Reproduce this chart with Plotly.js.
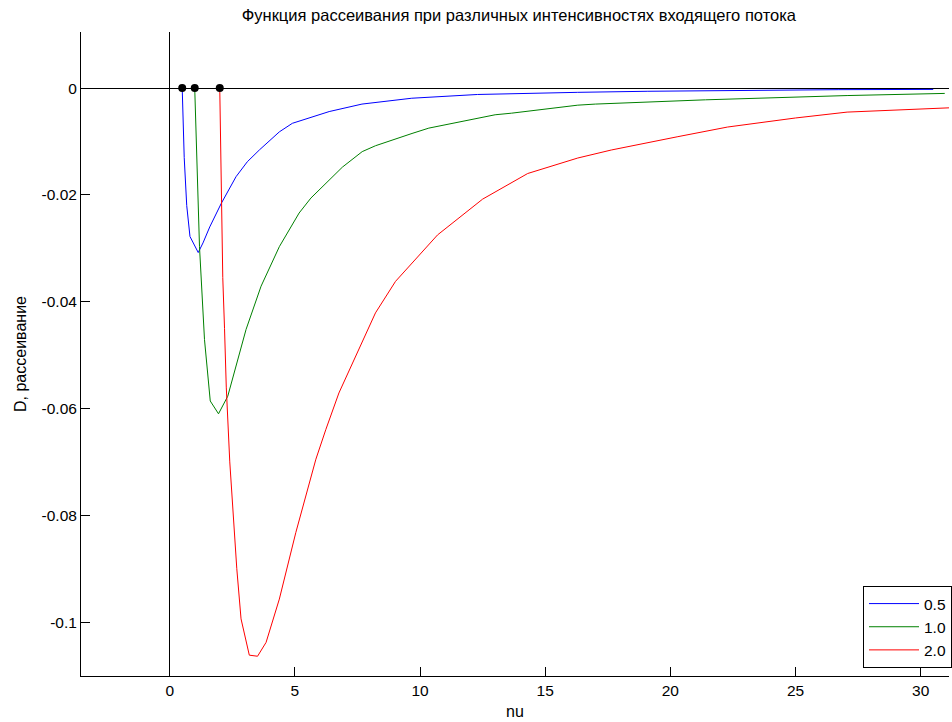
<!DOCTYPE html>
<html>
<head>
<meta charset="utf-8">
<script src="https://cdn.plot.ly/plotly-3.0.1.min.js"></script>
<style>html,body{margin:0;padding:0;background:#fff;}#chart{width:952px;height:722px;}</style>
</head>
<body>
<div id="chart"></div>
<script>
// Series labels (incoming flux intensity)
const seriesNames = ["0.5", "1.0", "2.0"];

// Series 0.5
const nu05 = [0.5, 0.58, 0.68, 0.81, 1.14, 1.33, 1.6, 2.06, 2.65, 3.1, 3.58, 4.38, 4.9, 5.97, 6.37, 7.68, 9.67, 12.3, 14.6, 16.3, 19.1, 22.5, 26.7, 30.5];
const D05  = [0, -0.013, -0.022, -0.0278, -0.0308, -0.029, -0.026, -0.0216, -0.0166, -0.0138, -0.0116, -0.0082, -0.0066, -0.0049, -0.0044, -0.0030, -0.0019, -0.0012, -0.0009, -0.0008, -0.0006, -0.00045, -0.0003, -0.00025];

// Series 1.0
const nu10 = [1.0, 1.1, 1.19, 1.39, 1.62, 1.95, 2.32, 3.05, 3.65, 4.38, 4.78, 5.17, 5.64, 6.24, 6.9, 7.69, 8.22, 9.68, 10.35, 13.0, 13.66, 16.3, 17.0, 21.4, 27.06, 30.96];
const D10  = [0, -0.015, -0.0297, -0.0471, -0.0586, -0.061, -0.0577, -0.0452, -0.0371, -0.0297, -0.0265, -0.0234, -0.0206, -0.0178, -0.0148, -0.0119, -0.0108, -0.0085, -0.0075, -0.0050, -0.0047, -0.0032, -0.0030, -0.0022, -0.0014, -0.0010];

// Series 2.0
const nu20 = [2.0, 2.06, 2.12, 2.19, 2.26, 2.4, 2.52, 2.68, 2.85, 3.18, 3.51, 3.85, 4.38, 5.04, 5.84, 6.24, 6.76, 7.56, 8.22, 9.02, 10.7, 12.5, 14.3, 16.3, 17.64, 20.3, 22.28, 25.0, 27.06, 31.13];
const D20  = [0, -0.0215, -0.0355, -0.045, -0.056, -0.07, -0.0783, -0.09, -0.0994, -0.1062, -0.1064, -0.1038, -0.0957, -0.0832, -0.0695, -0.0639, -0.0571, -0.0487, -0.0421, -0.0362, -0.0275, -0.0208, -0.0160, -0.0131, -0.0116, -0.0091, -0.0073, -0.0056, -0.0045, -0.0037];

// Start points marked on the axis
const startNu = [0.5, 1.0, 2.0];
const startD  = [0, 0, 0];

// Tick labels
const xTickVals = [0, 5, 10, 15, 20, 25, 30];
const xTickText = ["0", "5", "10", "15", "20", "25", "30"];
const yTickVals = [0, -0.02, -0.04, -0.06, -0.08, -0.1];
const yTickText = ["0", "-0.02", "-0.04", "-0.06", "-0.08", "-0.1"];

const FONT = "Liberation Sans, Arial, sans-serif";

const traces = [
  {x: nu05, y: D05, type: "scatter", mode: "lines", name: seriesNames[0], line: {color: "#0000ff", width: 1}},
  {x: nu10, y: D10, type: "scatter", mode: "lines", name: seriesNames[1], line: {color: "#008000", width: 1}},
  {x: nu20, y: D20, type: "scatter", mode: "lines", name: seriesNames[2], line: {color: "#ff0000", width: 1}},
  {x: startNu, y: startD, type: "scatter", mode: "markers", showlegend: false, marker: {color: "#000", size: 8, symbol: "circle"}, cliponaxis: false}
];

const layout = {
  width: 952, height: 722,
  margin: {l: 81, r: 0, t: 32, b: 46, pad: 0},
  paper_bgcolor: "#fff", plot_bgcolor: "#fff",
  font: {family: FONT, size: 15.5, color: "#000"},
  title: {text: "Функция рассеивания при различных интенсивностях входящего потока", font: {family: FONT, size: 16.5, color: "#000"}, x: 0.545, xanchor: "center", y: 0.979, yanchor: "middle"},
  showlegend: true,
  legend: {x: 1.004, xanchor: "right", y: 0.0124, yanchor: "bottom", bgcolor: "#fff", bordercolor: "#000", borderwidth: 1, font: {family: FONT, size: 15.5, color: "#000"}, itemwidth: 50, tracegroupgap: 0},
  xaxis: {
    range: [-3.543, 31.13], showgrid: false, zeroline: true, zerolinecolor: "#000", zerolinewidth: 1,
    showline: true, linecolor: "#000", linewidth: 1, mirror: false,
    ticks: "inside", ticklen: 9, tickcolor: "#000", tickvals: xTickVals, ticktext: xTickText,
    tickfont: {family: FONT, size: 15.5, color: "#000"},
    title: {text: "nu", font: {family: FONT, size: 16, color: "#000"}, standoff: 8}
  },
  yaxis: {
    range: [-0.1101, 0.0105], showgrid: false, zeroline: true, zerolinecolor: "#000", zerolinewidth: 1,
    showline: true, linecolor: "#000", linewidth: 1, mirror: false,
    ticks: "inside", ticklen: 9, tickcolor: "#000", tickvals: yTickVals, ticktext: yTickText,
    tickfont: {family: FONT, size: 15.5, color: "#000"},
    title: {text: "D, рассеивание", font: {family: FONT, size: 16, color: "#000"}, standoff: 10}
  }
};

Plotly.newPlot("chart", traces, layout, {displayModeBar: false, staticPlot: true});
</script>
</body>
</html>
